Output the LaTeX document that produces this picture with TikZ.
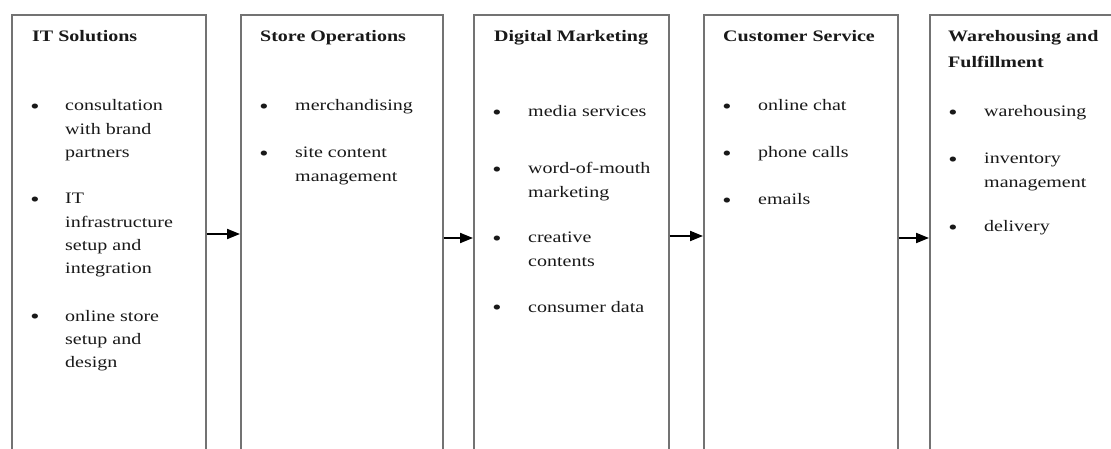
\documentclass[tikz,border=0pt]{standalone}
\usepackage{fontspec}
\setmainfont{Liberation Serif}[FakeStretch=1.25]
\usetikzlibrary{arrows.meta}
\definecolor{boxgray}{RGB}{115,115,115}
\definecolor{inkblack}{RGB}{25,25,25}
% left-aligned lines whose baseline is that of the first line
\newcommand\toplines[1]{\begin{tabular}[t]{@{}l@{}}#1\end{tabular}}
\begin{document}
\begin{tikzpicture}[x=1pt,y=-1pt,
  stage/.style={draw=boxgray, line width=1.6pt, minimum height=470pt,
    anchor=north west, inner sep=0pt, fill=white},
  head/.style={anchor=base west, inner sep=0pt, text=inkblack,
    font=\fontsize{16pt}{23.3pt}\selectfont\bfseries},
  item/.style={anchor=base west, inner sep=0pt, text=inkblack,
    font=\fontsize{16pt}{23.3pt}\selectfont},
  dot/.style={anchor=base, inner sep=0pt, text=inkblack, yshift=-2.5pt,
    font=\fontsize{21pt}{23.3pt}\selectfont},
  flow/.style={draw=black, line width=2pt, -{Triangle[length=13pt,width=10pt]}}
]
\useasboundingbox (0,0) rectangle (1111,449);
\fill[white] (0,0) rectangle (1111,449);
\clip (0,0) rectangle (1111,449);

% the five stages, open at the bottom edge
\node[stage, minimum width=194pt] (b1) at (11,14)  {};
\node[stage, minimum width=202pt] (b2) at (240,14) {};
\node[stage, minimum width=195pt] (b3) at (473,14) {};
\node[stage, minimum width=194pt] (b4) at (703,14) {};
\node[stage, minimum width=200pt] (b5) at (929,14) {};

% IT Solutions
\node[head] (t1) at (32,42) {IT Solutions};
\node[dot] (d11) at (35,111) {•};
\node[item] (i11) at (65,111) {\toplines{consultation\\with brand\\partners}};
\node[dot] (d12) at (35,204) {•};
\node[item] (i12) at (65,204) {\toplines{IT\\infrastructure\\setup and\\integration}};
\node[dot] (d13) at (35,321) {•};
\node[item] (i13) at (65,321) {\toplines{online store\\setup and\\design}};

% Store Operations
\node[head] (t2) at (260,42) {Store Operations};
\node[dot] (d21) at (264,111) {•};
\node[item] (i21) at (295,111) {merchandising};
\node[dot] (d22) at (264,158) {•};
\node[item] (i22) at (295,158) {\toplines{site content\\management}};

% Digital Marketing
\node[head] (t3) at (494,42) {Digital Marketing};
\node[dot] (d31) at (497,117) {•};
\node[item] (i31) at (528,117) {media services};
\node[dot] (d32) at (497,174) {•};
\node[item] (i32) at (528,174) {\toplines{word-of-mouth\\marketing}};
\node[dot] (d33) at (497,243) {•};
\node[item] (i33) at (528,243) {\toplines{creative\\contents}};
\node[dot] (d34) at (497,312) {•};
\node[item] (i34) at (528,312) {consumer data};

% Customer Service
\node[head] (t4) at (723,42) {Customer Service};
\node[dot] (d41) at (727,111) {•};
\node[item] (i41) at (758,111) {online chat};
\node[dot] (d42) at (727,158) {•};
\node[item] (i42) at (758,158) {phone calls};
\node[dot] (d43) at (727,205) {•};
\node[item] (i43) at (758,205) {emails};

% Warehousing and Fulfillment
\node[head] (t5) at (948,42) {\toplines{Warehousing and\\[2.7pt]Fulfillment}};
\node[dot] (d51) at (953,117) {•};
\node[item] (i51) at (984,117) {warehousing};
\node[dot] (d52) at (953,164) {•};
\node[item] (i52) at (984,164) {\toplines{inventory\\management}};
\node[dot] (d53) at (953,232) {•};
\node[item] (i53) at (984,232) {delivery};

% hand-offs between stages
\draw[flow] (b1.east |- 0,234) -- (b2.west |- 0,234);
\draw[flow] (b2.east |- 0,238) -- (b3.west |- 0,238);
\draw[flow] (b3.east |- 0,236) -- (b4.west |- 0,236);
\draw[flow] (b4.east |- 0,238) -- (b5.west |- 0,238);
\end{tikzpicture}
\end{document}
